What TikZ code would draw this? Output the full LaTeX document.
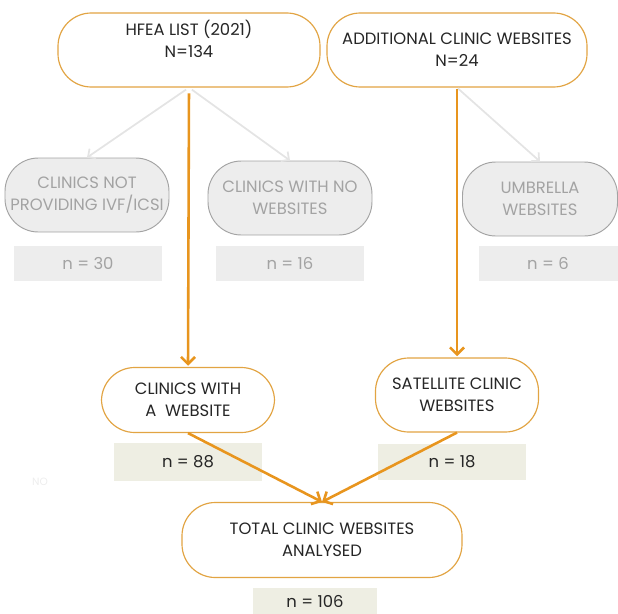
\documentclass[tikz,border=0pt]{standalone}
\usepackage{fontspec}
\setmainfont{Poppins}
\usetikzlibrary{arrows.meta}
\definecolor{boxorange}{HTML}{E2A443}
\definecolor{arrorange}{HTML}{E8951E}
\definecolor{fadegray}{HTML}{A3A3A3}
\definecolor{fadefill}{HTML}{EDEDED}
\definecolor{fadeline}{HTML}{E4E4E4}
\definecolor{countfill}{HTML}{EEEEE3}
\tikzset{
  mainbox/.style={draw=boxorange, line width=1pt, fill=white, rounded corners=1cm,
    align=center, font=\fontsize{14}{18.5}\selectfont, text=black!85, inner sep=2pt},
  outbox/.style={draw=fadegray, line width=0.8pt, fill=fadefill, rounded corners=1cm,
    align=center, font=\fontsize{14}{18.5}\selectfont, text=fadegray, inner sep=1pt},
  countbox/.style={fill=countfill, minimum width=4.44cm, minimum height=1.1cm,
    font=\fontsize{14}{18}\selectfont, text=black!85},
  outcount/.style={fill=fadefill, minimum width=4.44cm, minimum height=1.05cm,
    font=\fontsize{14}{18}\selectfont, text=fadegray},
  flow/.style={draw=arrorange, line width=2.2pt, -{Straight Barb[length=6pt,width=12pt]}},
  fadeflow/.style={draw=fadeline, line width=1.5pt, -{Straight Barb[length=5pt,width=10pt]}}
}
\begin{document}
\begin{tikzpicture}[x=0.03cm, y=-0.03cm]
  \useasboundingbox (0,0) rectangle (618,613);

  % Top sources
  \node[mainbox, minimum width=7.86cm, minimum height=2.22cm] (hfea) at (189,50)
    {HFEA LIST (2021)\\N=134\\[1pt]};
  \node[mainbox, minimum width=7.8cm, minimum height=2.22cm] (addl) at (457,50)
    {ADDITIONAL CLINIC WEBSITES\\N=24};

  % Excluded ones
  \node[outbox, minimum width=4.92cm, minimum height=2.22cm] (notivf) at (87,195)
    {CLINICS NOT\\PROVIDING IVF/ICSI};
  \node[outbox, minimum width=4.92cm, minimum height=2.22cm] (noweb) at (290,198)
    {CLINICS WITH NO\\WEBSITES};
  \node[outbox, minimum width=4.65cm, minimum height=2.22cm] (umbr) at (540,199)
    {UMBRELLA\\WEBSITES};

  \node[outcount] (n30) at (88,263) {n = 30};
  \node[outcount] (n16) at (290,263) {n = 16};
  \node[outcount, minimum width=4.17cm] (n6) at (548,263) {n = 6};

  % Included ones
  \node[mainbox, minimum width=5.19cm, minimum height=1.95cm] (web) at (188,400)
    {CLINICS WITH\\A \ WEBSITE};
  \node[mainbox, minimum width=4.89cm, minimum height=2.22cm] (sat) at (457,395)
    {SATELLITE CLINIC\\WEBSITES};

  \node[countbox, minimum height=1.14cm] (n88) at (188,462) {n = 88};
  \node[countbox] (n18) at (452,462) {n = 18};

  \node[font=\fontsize{9}{10}\selectfont, text=fadefill] (no) at (40,482) {NO};

  % Total
  \node[mainbox, minimum width=8.4cm, minimum height=2.25cm] (total) at (322,540)
    {TOTAL CLINIC WEBSITES\\ANALYSED};
  \node[countbox, minimum width=3.72cm, minimum height=0.8cm] (n106) at (315,601) {n = 106};

  % Arrows
  \draw[fadeflow, shorten <=3pt] (hfea.south) -- (notivf.north);
  \draw[fadeflow, shorten <=3pt] (hfea.south) -- (noweb.north);
  \draw[fadeflow, shorten <=1pt] (addl.south) -- (umbr.north);
  \draw[flow, shorten <=5pt, shorten >=1pt] (hfea.south) -- (web.north);
  \draw[flow, shorten <=1pt, shorten >=1pt] (addl.south) -- (sat.north);
  \draw[flow] (web.south) -- (total.north);
  \draw[flow] (sat.south) -- (total.north);
\end{tikzpicture}
\end{document}
